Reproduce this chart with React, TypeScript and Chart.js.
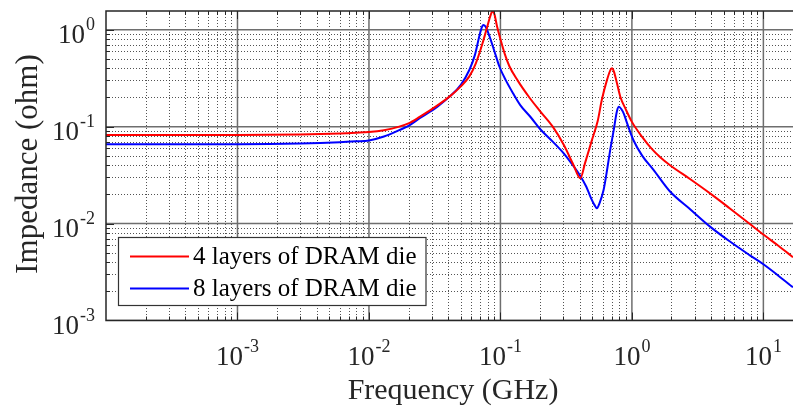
import React, { useEffect, useRef } from 'react';
import { Chart, registerables } from 'chart.js';

Chart.register(...registerables);

// ---- data ----
const freq4 = [1e-4, 3e-4, 1e-3, 3e-3, 6e-3, 0.008, 0.01, 0.013, 0.017, 0.02, 0.0243, 0.033, 0.041, 0.05, 0.058, 0.065, 0.073, 0.079, 0.084, 0.087, 0.09, 0.094, 0.1, 0.108, 0.117, 0.135, 0.166, 0.2, 0.25, 0.303, 0.36, 0.405, 0.44, 0.497, 0.55, 0.59, 0.645, 0.69, 0.705, 0.73, 0.77, 0.815, 0.9, 1.0, 1.2, 1.4, 1.65, 1.95, 2.8, 3.93, 5.5, 7.9, 10, 13, 16.8];
const imp4 = [0.082, 0.082, 0.082, 0.083, 0.085, 0.0865, 0.088, 0.092, 0.1, 0.108, 0.126, 0.165, 0.204, 0.26, 0.33, 0.45, 0.72, 1.05, 1.4, 1.55, 1.45, 1.1, 0.8, 0.56, 0.42, 0.3, 0.2, 0.145, 0.1, 0.065, 0.04, 0.0294, 0.042, 0.073, 0.115, 0.188, 0.3, 0.39, 0.4, 0.37, 0.28, 0.205, 0.15, 0.112, 0.078, 0.06, 0.048, 0.04, 0.0285, 0.0205, 0.0145, 0.0099, 0.0077, 0.0059, 0.0045];

const freq8 = [1e-4, 3e-4, 1e-3, 3e-3, 6e-3, 0.008, 0.01, 0.013, 0.017, 0.02, 0.0243, 0.033, 0.041, 0.05, 0.058, 0.064, 0.069, 0.072, 0.074, 0.077, 0.082, 0.09, 0.098, 0.11, 0.125, 0.142, 0.17, 0.201, 0.25, 0.303, 0.36, 0.405, 0.45, 0.483, 0.52, 0.542, 0.565, 0.609, 0.65, 0.684, 0.73, 0.77, 0.797, 0.83, 0.87, 0.916, 1.03, 1.2, 1.46, 1.95, 2.8, 3.93, 5.5, 7.9, 10, 13, 16.8];
const imp8 = [0.066, 0.066, 0.066, 0.067, 0.069, 0.0705, 0.072, 0.079, 0.092, 0.102, 0.122, 0.16, 0.204, 0.27, 0.384, 0.55, 0.85, 1.05, 1.12, 1.08, 0.88, 0.6, 0.42, 0.3, 0.22, 0.166, 0.125, 0.094, 0.07, 0.053, 0.039, 0.031, 0.024, 0.019, 0.0155, 0.0144, 0.016, 0.0222, 0.037, 0.0575, 0.095, 0.145, 0.16, 0.152, 0.135, 0.11, 0.072, 0.05, 0.0358, 0.0214, 0.0139, 0.0093, 0.0066, 0.0047, 0.0038, 0.0029, 0.0022];

const seriesLabels = ['4 layers of DRAM die', '8 layers of DRAM die'];
const seriesColors = ['#ff0000', '#0000ff'];
const xTickExps = [-3, -2, -1, 0, 1];
const yTickExps = [-3, -2, -1, 0];
const xTitle = 'Frequency (GHz)';
const yTitle = 'Impedance (ohm)';
const X_MIN = 1e-4;
const X_MAX = 16.8;
const Y_MIN = 1e-3;
const Y_MAX = 1.56;

const FONT = "'Liberation Serif', 'Times New Roman', serif";

function drawPow(ctx: CanvasRenderingContext2D, exp: number, x: number, baseline: number, align: 'center' | 'right') {
  const base = '10';
  const sup = String(exp);
  ctx.font = `27px ${FONT}`;
  const wb = ctx.measureText(base).width;
  ctx.font = `18px ${FONT}`;
  const ws = ctx.measureText(sup).width;
  const total = wb + ws + 1;
  const left = align === 'center' ? x - total / 2 : x - total;
  ctx.textAlign = 'left';
  ctx.textBaseline = 'alphabetic';
  ctx.fillStyle = '#262626';
  ctx.font = `27px ${FONT}`;
  ctx.fillText(base, left, baseline);
  ctx.font = `18px ${FONT}`;
  ctx.fillText(sup, left + wb + 1, baseline - 13);
}

const matlabPlugin = {
  id: 'matlabAxes',
  beforeDatasetsDraw(chart: any) {
    const { ctx, chartArea: a, scales } = chart;
    const x = scales.x;
    const y = scales.y;
    ctx.save();
    ctx.beginPath();
    ctx.rect(a.left, a.top, a.right - a.left, a.bottom - a.top);
    ctx.clip();
    // minor dotted grid
    ctx.lineWidth = 1;
    ctx.setLineDash([1, 2]);
    ctx.strokeStyle = 'rgba(40,40,40,0.8)';
    for (let e = -4; e <= 1; e++) {
      for (let k = 2; k <= 9; k++) {
        const v = k * Math.pow(10, e);
        if (v <= X_MIN || v >= X_MAX) continue;
        const px = Math.round(x.getPixelForValue(v)) + 0.5;
        ctx.beginPath();
        ctx.moveTo(px, a.top);
        ctx.lineTo(px, a.bottom);
        ctx.stroke();
      }
    }
    for (let e = -3; e <= 0; e++) {
      for (let k = 2; k <= 9; k++) {
        const v = k * Math.pow(10, e);
        if (v <= Y_MIN || v >= Y_MAX) continue;
        const py = Math.round(y.getPixelForValue(v)) + 0.5;
        ctx.beginPath();
        ctx.moveTo(a.left, py);
        ctx.lineTo(a.right, py);
        ctx.stroke();
      }
    }
    // major solid grid
    ctx.setLineDash([]);
    ctx.strokeStyle = '#6e6e6e';
    ctx.lineWidth = 1.5;
    for (const e of xTickExps) {
      const px = x.getPixelForValue(Math.pow(10, e));
      ctx.beginPath();
      ctx.moveTo(px, a.top);
      ctx.lineTo(px, a.bottom);
      ctx.stroke();
    }
    for (const e of yTickExps) {
      const py = y.getPixelForValue(Math.pow(10, e));
      ctx.beginPath();
      ctx.moveTo(a.left, py);
      ctx.lineTo(a.right, py);
      ctx.stroke();
    }
    ctx.restore();
  },
  afterDatasetsDraw(chart: any) {
    const { ctx, chartArea: a, scales } = chart;
    const x = scales.x;
    const y = scales.y;
    ctx.save();
    // box lines
    ctx.strokeStyle = '#262626';
    ctx.lineWidth = 1.5;
    ctx.beginPath();
    ctx.moveTo(a.right + 2, a.top);
    ctx.lineTo(a.left, a.top);
    ctx.lineTo(a.left, a.bottom);
    ctx.lineTo(a.right + 2, a.bottom);
    ctx.stroke();
    // ticks
    ctx.lineWidth = 1;
    for (let e = -4; e <= 1; e++) {
      for (let k = 1; k <= 9; k++) {
        const v = k * Math.pow(10, e);
        if (v <= X_MIN || v >= X_MAX) continue;
        const len = k === 1 ? 8 : 4;
        const px = Math.round(x.getPixelForValue(v)) + 0.5;
        ctx.beginPath();
        ctx.moveTo(px, a.bottom);
        ctx.lineTo(px, a.bottom - len);
        ctx.moveTo(px, a.top);
        ctx.lineTo(px, a.top + len);
        ctx.stroke();
      }
    }
    for (let e = -3; e <= 0; e++) {
      for (let k = 1; k <= 9; k++) {
        const v = k * Math.pow(10, e);
        if (v <= Y_MIN || v >= Y_MAX) continue;
        const len = k === 1 ? 8 : 4;
        const py = Math.round(y.getPixelForValue(v)) + 0.5;
        ctx.beginPath();
        ctx.moveTo(a.left, py);
        ctx.lineTo(a.left + len, py);
        ctx.stroke();
      }
    }
    // tick labels
    for (const e of xTickExps) {
      drawPow(ctx, e, x.getPixelForValue(Math.pow(10, e)), a.bottom + 44, 'center');
    }
    for (const e of yTickExps) {
      drawPow(ctx, e, a.left - 11, y.getPixelForValue(Math.pow(10, e)) + 13, 'right');
    }
    // axis titles
    ctx.fillStyle = '#262626';
    ctx.font = `30px ${FONT}`;
    ctx.textAlign = 'center';
    ctx.textBaseline = 'alphabetic';
    ctx.fillText(xTitle, 453, 399);
    ctx.save();
    ctx.translate(37, 164);
    ctx.rotate(-Math.PI / 2);
    ctx.font = `31px ${FONT}`;
    ctx.fillText(yTitle, 0, 0);
    ctx.restore();
    // legend
    const lx = 118.5, ly = 237.5, lw = 307.5, lh = 68;
    ctx.fillStyle = '#ffffff';
    ctx.fillRect(lx, ly, lw, lh);
    ctx.strokeStyle = '#333333';
    ctx.lineWidth = 1.2;
    ctx.strokeRect(lx, ly, lw, lh);
    const rows = [256.5, 288.5];
    chart.data.datasets.forEach((ds: any, i: number) => {
      ctx.strokeStyle = ds.borderColor;
      ctx.lineWidth = 2;
      ctx.beginPath();
      ctx.moveTo(130, rows[i]);
      ctx.lineTo(189, rows[i]);
      ctx.stroke();
      ctx.fillStyle = '#000000';
      ctx.font = `25px ${FONT}`;
      ctx.textAlign = 'left';
      ctx.textBaseline = 'middle';
      ctx.fillText(ds.label, 193, rows[i] + 1);
    });
    ctx.restore();
  },
};

export default function App() {
  const ref = useRef<HTMLCanvasElement | null>(null);
  useEffect(() => {
    if (!ref.current) return;
    const chart = new Chart(ref.current, {
      type: 'line',
      data: {
        datasets: [
          {
            label: seriesLabels[0],
            data: freq4.map((f, i) => ({ x: f, y: imp4[i] })),
            borderColor: seriesColors[0],
            borderWidth: 2,
            pointRadius: 0,
            cubicInterpolationMode: 'monotone',
            fill: false,
          },
          {
            label: seriesLabels[1],
            data: freq8.map((f, i) => ({ x: f, y: imp8[i] })),
            borderColor: seriesColors[1],
            borderWidth: 2,
            pointRadius: 0,
            cubicInterpolationMode: 'monotone',
            fill: false,
          },
        ],
      },
      options: {
        animation: false,
        responsive: false,
        devicePixelRatio: 1,
        layout: { padding: { left: 106, top: 11, right: 0, bottom: 86.5 } },
        plugins: { legend: { display: false }, tooltip: { enabled: false } },
        scales: {
          x: { type: 'logarithmic', min: X_MIN, max: X_MAX, display: false },
          y: { type: 'logarithmic', min: Y_MIN, max: Y_MAX, display: false },
        },
      },
      plugins: [matlabPlugin],
    } as any);
    return () => chart.destroy();
  }, []);
  return (
    <div style={{ position: 'fixed', left: 0, top: 0, width: 793, height: 407, background: '#fff' }}>
      <canvas ref={ref} width={793} height={407} style={{ width: 793, height: 407, display: 'block' }} />
    </div>
  );
}
